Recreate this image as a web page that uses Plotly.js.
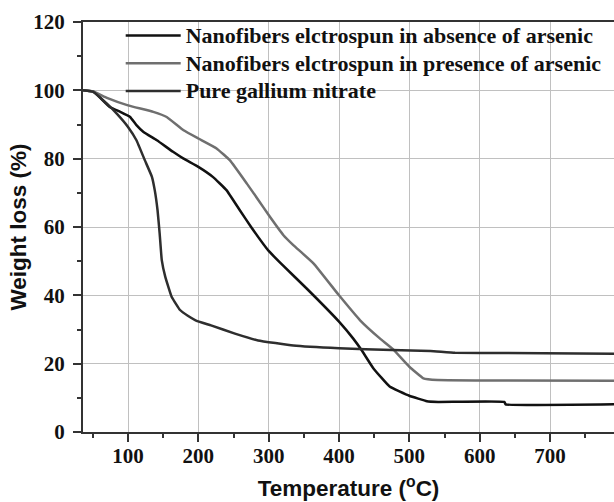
<!DOCTYPE html>
<html>
<head>
<meta charset="utf-8">
<script src="https://cdn.plot.ly/plotly-3.0.1.min.js"></script>
<style>html,body{margin:0;padding:0;background:#fff;}#chart{width:614px;height:502px;}</style>
</head>
<body>
<div id="chart"></div>
<script>
// Series: Nanofibers electrospun in absence of arsenic
var absenceT = [36, 51, 74, 89, 103, 112, 122, 141, 164, 179, 200, 221, 240, 259, 275, 300, 321, 354, 400, 420, 432, 449, 472, 500, 525, 541, 635, 637, 791];
var absenceW = [100, 99.6, 95.1, 93.7, 92.2, 89.8, 87.8, 85.4, 82, 80, 77.6, 74.6, 70.8, 64.9, 60, 53, 48.6, 42, 32.3, 27.4, 24, 18.6, 13.3, 10.6, 9.0, 8.8, 8.8, 8.1, 8.1];

// Series: Nanofibers electrospun in presence of arsenic
var presenceT = [36, 51, 70, 100, 136, 155, 179, 200, 226, 245, 269, 285, 300, 321, 335, 364, 400, 430, 458, 477, 500, 520, 540, 600, 791];
var presenceW = [100, 99.6, 97.8, 95.6, 93.7, 92.2, 88.3, 85.9, 83, 79.5, 72.7, 68, 63.5, 57.6, 54.7, 49.3, 40, 32.7, 27.4, 24.2, 19.1, 15.7, 15.2, 15.1, 15.0];

// Series: Pure gallium nitrate
var galliumT = [36, 51, 70, 84, 100, 112, 124, 134, 138, 142, 145, 148, 153, 162, 174, 185, 196, 218, 252, 285, 335, 400, 475, 530, 565, 640, 791];
var galliumW = [100, 99.5, 96.1, 93.2, 89.3, 85.4, 79.5, 74.7, 70.8, 64.9, 58.1, 50.3, 45.4, 39.6, 35.7, 34, 32.7, 31.2, 28.8, 26.8, 25.3, 24.5, 24.0, 23.7, 23.2, 23.1, 22.9];

var seriesNames = ["Nanofibers elctrospun in absence of arsenic", "Nanofibers elctrospun in presence of arsenic", "Pure gallium nitrate"];
var xTitle = "Temperature (<sup>o</sup>C)";
var yTitle = "Weight loss (%)";

var serif = "'Liberation Serif', 'Times New Roman', serif";
var sans = "'Liberation Sans', Arial, sans-serif";

function tr(x, y, name, color) {
  return {x: x, y: y, name: '<span style="font-size:22px">' + name + '</span>', type: 'scatter', mode: 'lines',
    line: {color: color, width: 2.5, shape: 'spline', smoothing: 0.3}};
}

var data = [
  tr(absenceT, absenceW, seriesNames[0], '#111111'),
  tr(presenceT, presenceW, seriesNames[1], '#6f6f6f'),
  tr(galliumT, galliumW, seriesNames[2], '#2e2e2e')
];

var axisCommon = {
  ticks: 'outside', ticklen: 8, tickwidth: 2, tickcolor: '#333',
  showline: true, linewidth: 2, linecolor: '#333',
  showgrid: true, gridcolor: '#c0c0c0', gridwidth: 1,
  zeroline: false,
  tickfont: {family: serif, size: 21, color: '#111', weight: 'bold'}
};

var layout = {
  width: 614, height: 502,
  margin: {l: 83, r: 0, t: 22, b: 70},
  paper_bgcolor: '#fff', plot_bgcolor: '#fff',
  showlegend: true,
  legend: {x: 0.071, y: 1.013, xanchor: 'left', yanchor: 'top', bgcolor: 'rgba(0,0,0,0)',
    borderwidth: 0, itemwidth: 55,
    font: {family: serif, size: 19, color: '#111', weight: 'bold'}},
  xaxis: Object.assign({}, axisCommon, {
    range: [36, 791], tick0: 0, dtick: 100, mirror: true, ticklabelstandoff: -4,
    minor: {tick0: 0, dtick: 50, ticks: 'outside', ticklen: 4, tickwidth: 2, tickcolor: '#333', showgrid: false},
    title: {text: xTitle, font: {family: sans, size: 22.5, color: '#111', weight: 'bold'}, standoff: 13}
  }),
  yaxis: Object.assign({}, axisCommon, {
    range: [0, 120], tick0: 0, dtick: 20, ticklabelstandoff: 4,
    minor: {tick0: 0, dtick: 10, ticks: 'outside', ticklen: 4, tickwidth: 2, tickcolor: '#333', showgrid: false},
    title: {text: yTitle, font: {family: sans, size: 22.5, color: '#111', weight: 'bold'}, standoff: 0}
  })
};

Plotly.newPlot('chart', data, layout, {displayModeBar: false, staticPlot: true});
</script>
</body>
</html>
